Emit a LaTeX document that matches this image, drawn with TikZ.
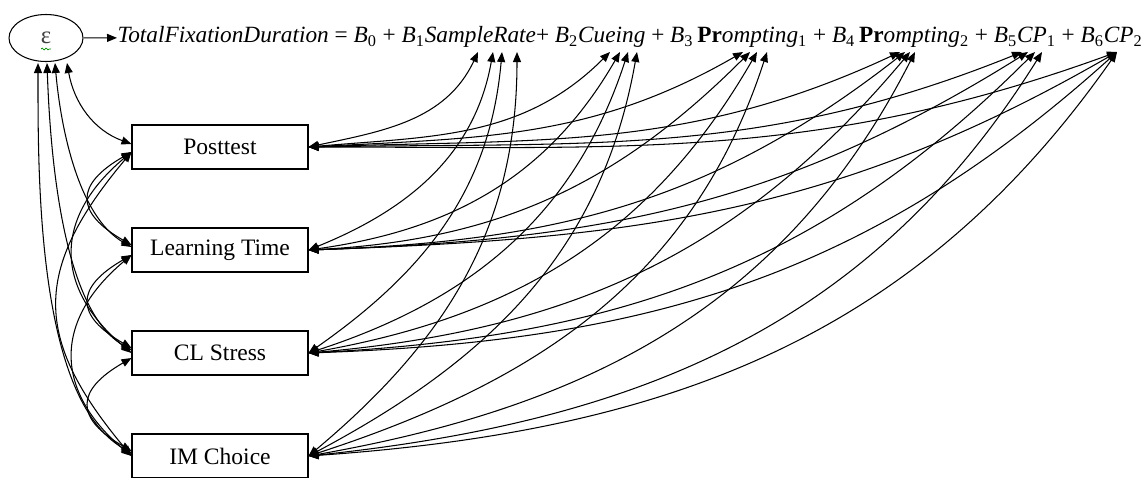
\documentclass[tikz,border=0pt]{standalone}
\usepackage{fontspec}
\setmainfont{Liberation Serif}
\usetikzlibrary{arrows.meta,shapes.geometric,decorations.pathmorphing}

% coefficient B with its index
\newcommand{\coef}[1]{\textit{B}\textsubscript{#1}}

\begin{document}
\begin{tikzpicture}[x=0.02cm, y=0.02cm, line width=0.6pt,
    latent/.style={draw, ellipse, minimum width=1.48cm, minimum height=0.94cm,
      inner sep=0pt, font=\fontsize{14}{16}\selectfont},
    observed/.style={draw, minimum width=3.52cm, minimum height=0.88cm,
      inner sep=0pt, font=\fontsize{13.4}{16}\selectfont},
    corr/.style={{Triangle[length=0.2cm, width=0.16cm]}-{Triangle[length=0.2cm, width=0.16cm]}},
    regress/.style={-{Triangle[length=0.2cm, width=0.16cm]}}]

  \useasboundingbox (0,0) rectangle (1148,-477);

  % ---- error term and the regression equation ----
  \node[latent, text=black!75] (eps) at (46,-38) {ε};
  \draw[green!55!black, line width=0.4pt, decorate,
        decoration={snake, amplitude=0.5pt, segment length=2.2pt}] (41,-49) -- (51,-49);
  \node[anchor=west, inner sep=0pt, font=\fontsize{13.25}{16}\selectfont] (eq) at (117,-37)
    {\textit{TotalFixationDuration} = \coef{0} + \coef{1}\textit{SampleRate}+
     \coef{2}\textit{Cueing} + \coef{3}\,\textbf{Pr}\textit{ompting}\textsubscript{1} +
     \coef{4}\,\textbf{Pr}\textit{ompting}\textsubscript{2} + \coef{5}\textit{CP}\textsubscript{1} +
     \coef{6}\textit{CP}\textsubscript{2}};
  \draw[regress] (eps) -- (eq);

  % ---- observed outcomes ----
  \node[observed] (post)   at (220,-147) {Posttest};
  \node[observed] (learn)  at (220,-250) {Learning Time};
  \node[observed] (stress) at (220,-353) {CL Stress};
  \node[observed] (choice) at (220,-456) {IM Choice};

  % ---- arrow ends under the predictors (one per outcome) ----
  \foreach \t/\a/\b/\c/\d in {sr/478/493/502/517, cu/610/620/628/637,
      pa/743/750/757/767, pb/900/905/910/915, ca/1022/1028/1035/1042,
      cb/1117/1117/1117/1117} {
    \coordinate (\t1) at (\a,-52);
    \coordinate (\t2) at (\b,-52);
    \coordinate (\t3) at (\c,-52);
    \coordinate (\t4) at (\d,-52);
  }

  % ---- outcomes with the predictors ----
  \foreach \t/\o/\i in {sr/12/245, cu/5/225, pa/3/210, pb/2/205, ca/1/202, cb/0/200}
    \draw[corr] (post.east) to[out=\o, in=\i] (\t1);
  \foreach \t/\o/\i in {sr/22/260, cu/8/240, pa/3/225, pb/2/218, ca/2/212, cb/2/210}
    \draw[corr] (learn.east) to[out=\o, in=\i] (\t2);
  \foreach \t/\o/\i in {sr/35/265, cu/18/252, pa/10/240, pb/5/230, ca/3/225, cb/2/222}
    \draw[corr] (stress.east) to[out=\o, in=\i] (\t3);
  \foreach \t/\o/\i in {sr/40/270, cu/28/260, pa/18/252, pb/10/243, ca/6/238, cb/4/235}
    \draw[corr] (choice.east) to[out=\o, in=\i] (\t4);

  % ---- error term with the outcomes ----
  \coordinate (e1) at (67,-63);
  \coordinate (e2) at (55,-63);
  \coordinate (e3) at (47,-63);
  \coordinate (e4) at (38,-63);
  \draw[corr] (e1) to[out=-80, in=160] ([yshift=0.06cm]post.west);
  \draw[corr] (e2) to[out=-85, in=150, looseness=0.8] ([yshift=0.06cm]learn.west);
  \draw[corr] (e3) to[out=-88, in=150, looseness=0.7] ([yshift=0.06cm]stress.west);
  \draw[corr] (e4) to[out=-90, in=150, looseness=0.7] ([yshift=0.06cm]choice.west);

  % ---- outcomes among themselves ----
  \draw[corr] ([yshift=-0.1cm]post.west)  to[out=210, in=150, looseness=1.8] ([yshift=0.1cm]learn.west);
  \draw[corr] ([yshift=-0.1cm]learn.west) to[out=210, in=150, looseness=1.8] ([yshift=0.1cm]stress.west);
  \draw[corr] ([yshift=-0.1cm]stress.west) to[out=210, in=150, looseness=1.8] ([yshift=0.1cm]choice.west);
  \draw[corr] ([yshift=-0.1cm]post.west)  to[out=220, in=140, looseness=1.3] (stress.west);
  \draw[corr] ([yshift=-0.1cm]learn.west) to[out=220, in=140, looseness=1.3] (choice.west);
  \draw[corr] ([yshift=-0.1cm]post.west)  to[out=230, in=130, looseness=1.3] (choice.west);

\end{tikzpicture}
\end{document}
